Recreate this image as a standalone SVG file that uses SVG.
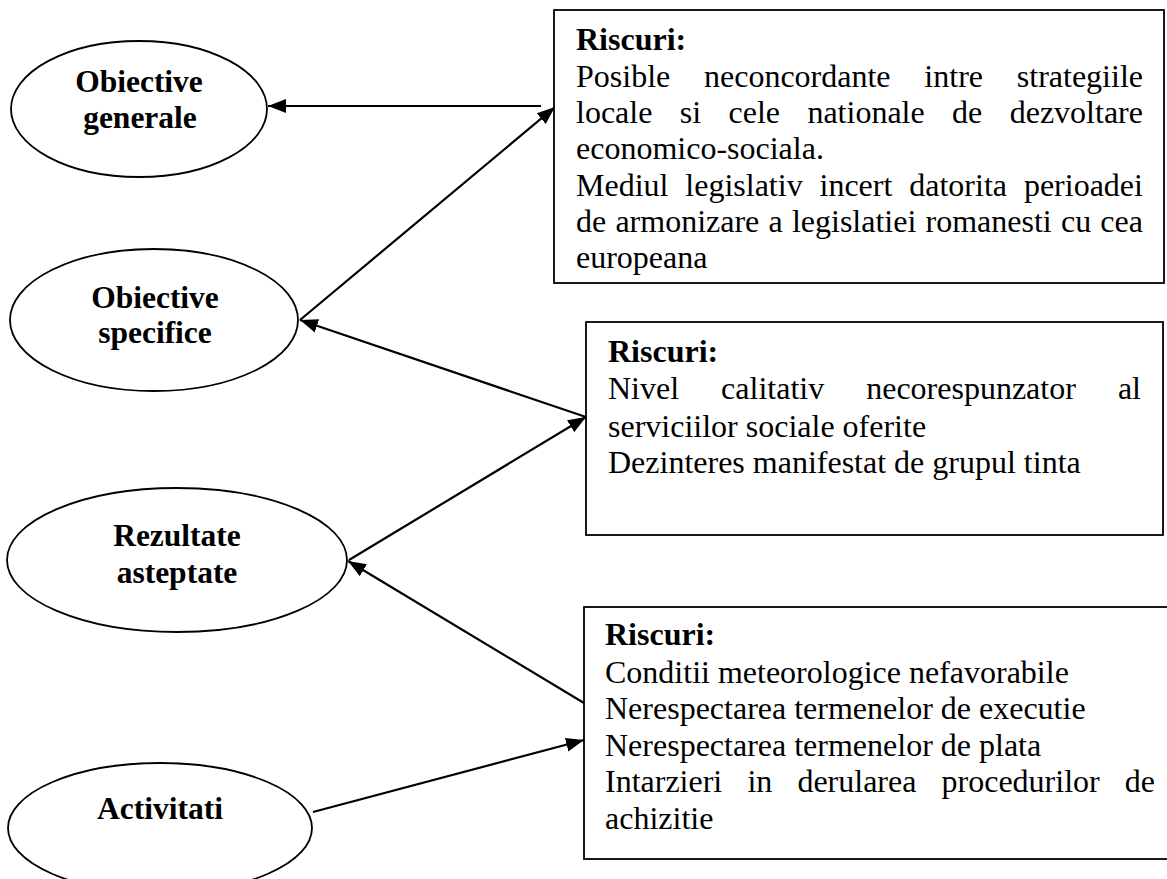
<svg xmlns="http://www.w3.org/2000/svg" width="1167" height="879" viewBox="0 0 1167 879">
<style>
.bg{fill:#ffffff}
.ell{fill:#ffffff;stroke:#000000;stroke-width:1.8}
.box{fill:#ffffff;stroke:#000000;stroke-width:1.8}
.lbl{font-family:"Liberation Serif","Times New Roman",serif;font-weight:bold;font-size:31.5px;fill:#000000;text-anchor:middle}
.hd{font-family:"Liberation Serif","Times New Roman",serif;font-weight:bold;font-size:32px;fill:#000000}
.tx{font-family:"Liberation Serif","Times New Roman",serif;font-size:32px;fill:#000000}
.con{fill:none;stroke:#000000;stroke-width:2.2}
</style>
<defs>
<marker id="ah" markerUnits="userSpaceOnUse" markerWidth="20" markerHeight="16" refX="18" refY="8" orient="auto">
<path d="M0,1 L18,8 L0,15 Z" fill="#000000"/>
</marker>
</defs>
<rect class="bg" x="0" y="0" width="1167" height="879"/>

<g id="connectors">
<line class="con" x1="541" y1="106" x2="268" y2="106" marker-end="url(#ah)"/>
<line class="con" x1="300" y1="320" x2="555" y2="107" marker-end="url(#ah)"/>
<line class="con" x1="586" y1="417" x2="300" y2="320" marker-end="url(#ah)"/>
<line class="con" x1="349" y1="560" x2="586" y2="417" marker-end="url(#ah)"/>
<line class="con" x1="584" y1="703" x2="348" y2="561" marker-end="url(#ah)"/>
<line class="con" x1="313" y1="812" x2="584" y2="740" marker-end="url(#ah)"/>
</g>

<g id="obiective-generale">
<ellipse class="ell" cx="139" cy="109" rx="128" ry="68"/>
<text class="lbl" x="139" y="92">Obiective</text>
<text class="lbl" x="140" y="128">generale</text>
</g>

<g id="obiective-specifice">
<ellipse class="ell" cx="154" cy="320" rx="144" ry="71"/>
<text class="lbl" x="155" y="308">Obiective</text>
<text class="lbl" x="155" y="343">specifice</text>
</g>

<g id="rezultate-asteptate">
<ellipse class="ell" cx="177" cy="560" rx="170" ry="72"/>
<text class="lbl" x="177" y="546">Rezultate</text>
<text class="lbl" x="177" y="583">asteptate</text>
</g>

<g id="activitati">
<ellipse class="ell" cx="160" cy="828" rx="152" ry="65"/>
<text class="lbl" x="160" y="819">Activitati</text>
</g>

<g id="riscuri-1">
<rect class="box" x="554" y="10" width="610" height="273"/>
<text class="hd" x="576" y="50">Riscuri:</text>
<text class="tx" y="87"><tspan x="576">Posible</tspan><tspan x="704.01">neconcordante</tspan><tspan x="924.37">intre</tspan><tspan x="1016.8">strategiile</tspan></text>
<text class="tx" y="123"><tspan x="576">locale</tspan><tspan x="679.8">si</tspan><tspan x="728.52">cele</tspan><tspan x="807.42">nationale</tspan><tspan x="952.11">de</tspan><tspan x="1009.7">dezvoltare</tspan></text>
<text class="tx" x="576" y="159">economico-sociala.</text>
<text class="tx" y="196"><tspan x="576">Mediul</tspan><tspan x="685.33">legislativ</tspan><tspan x="819.53">incert</tspan><tspan x="909.27">datorita</tspan><tspan x="1023.91">perioadei</tspan></text>
<text class="tx" y="232"><tspan x="576">de</tspan><tspan x="615.4">armonizare</tspan><tspan x="768.53">a</tspan><tspan x="791.93">legislatiei</tspan><tspan x="925.57">romanesti</tspan><tspan x="1060.97">cu</tspan><tspan x="1100.37">cea</tspan></text>
<text class="tx" x="576" y="268">europeana</text>
</g>

<g id="riscuri-2">
<rect class="box" x="586" y="322" width="577" height="213"/>
<text class="hd" x="608" y="362">Riscuri:</text>
<text class="tx" y="399"><tspan x="608">Nivel</tspan><tspan x="721.1">calitativ</tspan><tspan x="866.2">necorespunzator</tspan><tspan x="1117.9">al</tspan></text>
<text class="tx" x="608" y="437">serviciilor sociale oferite</text>
<text class="tx" x="608" y="473">Dezinteres manifestat de grupul tinta</text>
</g>

<g id="riscuri-3">
<rect class="box" x="584" y="607" width="600" height="252"/>
<text class="hd" x="605" y="645">Riscuri:</text>
<text class="tx" x="605" y="683">Conditii meteorologice nefavorabile</text>
<text class="tx" x="605" y="719">Nerespectarea termenelor de executie</text>
<text class="tx" x="605" y="756">Nerespectarea termenelor de plata</text>
<text class="tx" y="792"><tspan x="605">Intarzieri</tspan><tspan x="747.38">in</tspan><tspan x="797.38">derularea</tspan><tspan x="941.52">procedurilor</tspan><tspan x="1124.8">de</tspan></text>
<text class="tx" x="605" y="829">achizitie</text>
</g>
</svg>
